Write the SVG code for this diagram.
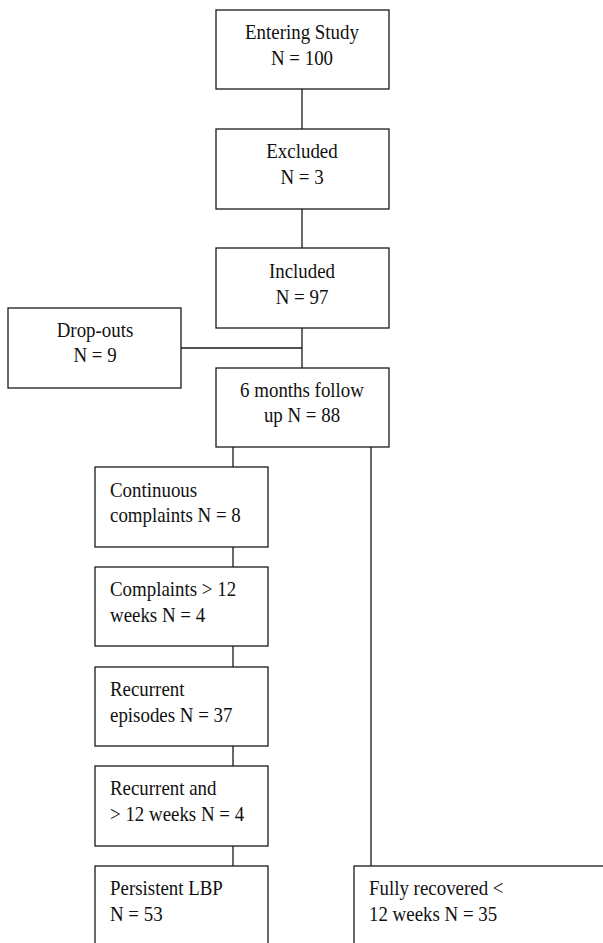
<svg xmlns="http://www.w3.org/2000/svg" width="603" height="943" viewBox="0 0 603 943">
<style>
rect{fill:#fff;stroke:#1a1a1a;stroke-width:1.3}
line{stroke:#1a1a1a;stroke-width:1.3}
text{font-family:"Liberation Serif","Times New Roman",serif;font-size:21px;fill:#111}
.c{text-anchor:middle}
</style>
<rect x="0" y="0" width="603" height="943" style="stroke:none"/>
<g id="connectors">
<line x1="302" y1="89" x2="302" y2="129"/>
<line x1="302" y1="209" x2="302" y2="248"/>
<line x1="302" y1="328" x2="302" y2="368"/>
<line x1="181" y1="348" x2="302" y2="348"/>
<line x1="233" y1="447" x2="233" y2="467"/>
<line x1="233" y1="547" x2="233" y2="567"/>
<line x1="233" y1="646" x2="233" y2="667"/>
<line x1="233" y1="746" x2="233" y2="766"/>
<line x1="233" y1="846" x2="233" y2="866"/>
<line x1="371" y1="447" x2="371" y2="866"/>
</g>
<g id="entering"><rect x="216" y="10" width="173" height="79"/><text class="c" transform="translate(302,39) scale(0.9,1)">Entering Study</text><text class="c" transform="translate(302,65) scale(0.9,1)">N = 100</text></g>
<g id="excluded"><rect x="216" y="129" width="173" height="80"/><text class="c" transform="translate(302,158) scale(0.9,1)">Excluded</text><text class="c" transform="translate(302,184) scale(0.9,1)">N = 3</text></g>
<g id="included"><rect x="216" y="248" width="173" height="80"/><text class="c" transform="translate(302,278) scale(0.9,1)">Included</text><text class="c" transform="translate(302,304) scale(0.9,1)">N = 97</text></g>
<g id="dropouts"><rect x="8" y="308" width="173" height="80"/><text class="c" transform="translate(95,337) scale(0.9,1)">Drop-outs</text><text class="c" transform="translate(95,362) scale(0.9,1)">N = 9</text></g>
<g id="followup"><rect x="216" y="368" width="173" height="79"/><text class="c" transform="translate(302,397) scale(0.9,1)">6 months follow</text><text class="c" transform="translate(302,422) scale(0.9,1)">up N = 88</text></g>
<g id="continuous"><rect x="95" y="467" width="173" height="80"/><text transform="translate(110,497) scale(0.9,1)">Continuous</text><text transform="translate(110,522) scale(0.9,1)">complaints N = 8</text></g>
<g id="complaints12"><rect x="95" y="567" width="173" height="79"/><text transform="translate(110,596) scale(0.9,1)">Complaints &gt; 12</text><text transform="translate(110,622) scale(0.9,1)">weeks N = 4</text></g>
<g id="recurrent"><rect x="95" y="667" width="173" height="79"/><text transform="translate(110,696) scale(0.9,1)">Recurrent</text><text transform="translate(110,722) scale(0.9,1)">episodes N = 37</text></g>
<g id="recurrent12"><rect x="95" y="766" width="173" height="80"/><text transform="translate(110,795) scale(0.9,1)">Recurrent and</text><text transform="translate(110,821) scale(0.9,1)">&gt; 12 weeks N = 4</text></g>
<g id="persistent"><rect x="95" y="866" width="173" height="90"/><text transform="translate(110,895) scale(0.9,1)">Persistent LBP</text><text transform="translate(110,921) scale(0.9,1)">N = 53</text></g>
<g id="recovered"><rect x="354" y="866" width="260" height="90"/><text transform="translate(369,895) scale(0.9,1)">Fully recovered &lt;</text><text transform="translate(369,921) scale(0.9,1)">12 weeks N = 35</text></g>
</svg>
